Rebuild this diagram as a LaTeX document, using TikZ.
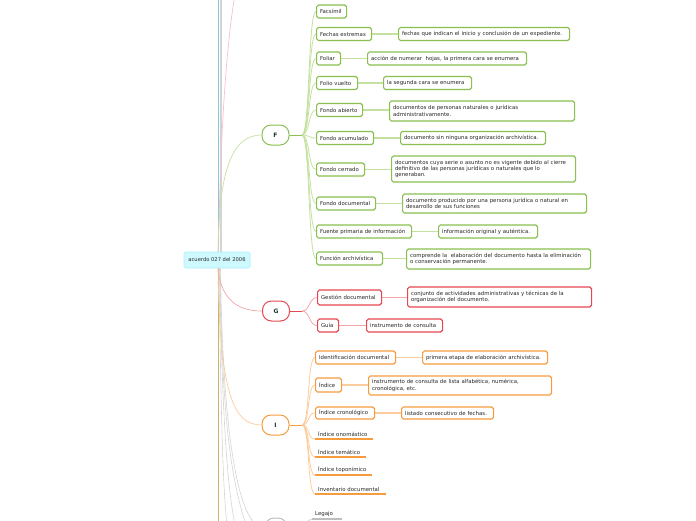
\documentclass[tikz,border=0pt]{standalone}
\usepackage{fontspec}
\setmainfont{DejaVu Sans}
\usetikzlibrary{backgrounds}
\definecolor{txt}{RGB}{40,40,40}
\definecolor{lett}{RGB}{25,55,45}
\definecolor{fc}{RGB}{137,192,80}
\definecolor{fl}{RGB}{196,225,160}
\definecolor{gc}{RGB}{229,72,80}
\definecolor{gl}{RGB}{243,165,170}
\definecolor{ic}{RGB}{246,156,62}
\definecolor{il}{RGB}{251,204,156}
\definecolor{rootfill}{RGB}{206,249,255}
\definecolor{rootdraw}{RGB}{172,238,250}
\definecolor{tealc}{RGB}{135,200,215}
\definecolor{greyc}{RGB}{212,212,212}
\definecolor{pinkc}{RGB}{248,190,210}
\definecolor{olivec}{RGB}{200,182,100}
\definecolor{lgc}{RGB}{190,190,190}
\tikzset{
  base/.style={font=\fontsize{5.4}{6.4}\selectfont, text=txt, anchor=west, inner xsep=3.5pt, inner ysep=1.5pt, rounded corners=1.8pt, fill=white, align=left, minimum height=13pt},
  fbox/.style={base, draw=fc, line width=1.1pt},
  gbox/.style={base, draw=gc, line width=1.1pt},
  ibox/.style={base, draw=ic, line width=1.1pt},
  ulnode/.style={font=\fontsize{5.4}{6.4}\selectfont, text=txt, anchor=south west, inner xsep=3pt, inner ysep=2pt, align=left},
  letter/.style={font=\fontsize{6}{7}\bfseries, text=lett, fill=white, rounded corners=9pt, minimum width=27pt, minimum height=20pt, inner sep=0pt, line width=1pt},
  fcur/.style={fl, line width=0.8pt},
  gcur/.style={gl, line width=0.8pt},
  icur/.style={il, line width=0.8pt},
  fdet/.style={fl, line width=1.3pt},
  gdet/.style={gl, line width=1.3pt},
  idet/.style={il, line width=1.3pt},
}
\begin{document}
\begin{tikzpicture}[x=1pt,y=-1pt]
\useasboundingbox (0,0) rectangle (696,520);
\clip (0,0) rectangle (696,520);

% root
\node[font=\fontsize{5.2}{6}\selectfont, text=txt, fill=rootfill, draw=rootdraw, line width=0.6pt, rounded corners=2pt, minimum width=66pt, minimum height=16pt, inner sep=1pt] (root) at (217,260) {acuerdo 027 del 2006};

% letter nodes
\node[letter, draw=fc] (F) at (275.5,135) {F};
\node[letter, draw=gc] (G) at (276,311) {G};
\node[letter, draw=ic] (I) at (275.5,425) {I};
\node[letter, draw=lgc, minimum width=22pt] (L) at (276,528) {};

% F children
\node[fbox, text width=23pt] (fa) at (316,11.5) {Facsímil};
\node[fbox, text width=48pt] (fe) at (316,34) {Fechas extremas};
\node[fbox, text width=17pt] (fo) at (316,58.5) {Foliar};
\node[fbox, text width=34pt] (fv) at (316,83) {Folio vuelto};
\node[fbox, text width=39pt] (fab) at (316,110) {Fondo abierto};
\node[fbox, text width=50pt] (fac) at (316,138) {Fondo acumulado};
\node[fbox, text width=41pt] (fce) at (316,169.5) {Fondo cerrado};
\node[fbox, text width=52pt] (fdo) at (316,203.5) {Fondo documental};
\node[fbox, text width=88pt] (fue) at (316,231.5) {Fuente primaria de información};
\node[fbox, text width=59pt] (fun) at (316,258.5) {Función archivística};

% F details
\node[fbox, text width=164pt] (dfe) at (398,34) {fechas que indican el inicio y conclusión de un expediente.};
\node[fbox, text width=152pt] (dfo) at (367,58.5) {acción de numerar~ hojas, la primera cara se enumera};
\node[fbox, text width=81pt] (dfv) at (383,83) {la segunda cara se enumera};
\node[fbox, text width=178pt, minimum height=20pt] (dfab) at (389,111) {documentos de personas naturales o jurídicas\\administrativamente.};
\node[fbox, text width=138pt] (dfac) at (400,138) {documento sin ninguna organización archivística.};
\node[fbox, text width=177pt, minimum height=26pt] (dfce) at (391,169) {documentos cuya serie o asunto no es vigente debido al cierre\\definitivo de las personas jurídicas o naturales que lo\\generaban.};
\node[fbox, text width=177pt, minimum height=19pt] (dfdo) at (402,203.5) {documento producido por una persona jurídica o natural en\\desarrollo de sus funciones};
\node[fbox, text width=92pt] (dfue) at (438,231.5) {información original y auténtica.};
\node[fbox, text width=177pt, minimum height=20pt] (dfun) at (406,259) {comprende la~ elaboración del documento hasta la eliminación\\o conservación permanente.};

% G children
\node[gbox, text width=57pt, minimum height=15pt] (ge) at (317,297.5) {Gestión documental};
\node[gbox, text width=14pt] (gu) at (317,325.5) {Guía};
\node[gbox, text width=177pt, minimum height=20pt] (dge) at (407,297) {conjunto de actividades administrativas y técnicas de la\\organización del documento.};
\node[gbox, text width=69pt] (dgu) at (366,325.5) {instrumento de consulta};

% I children
\node[ibox, text width=73pt] (iid) at (315,357.5) {Identificación documental};
\node[ibox, text width=19pt, minimum height=14pt] (iin) at (315,385) {Índice};
\node[ibox, text width=52pt, minimum height=12pt] (iic) at (315,413) {Índice cronológico};
\node[ibox, text width=118pt] (diid) at (422,357.5) {primera etapa de elaboración archivística.};
\node[ibox, text width=176pt, minimum height=19pt] (diin) at (368,385.5) {instrumento de consulta de lista alfabética, numérica,\\cronológica, etc.};
\node[ibox, text width=85pt, minimum height=12pt] (diic) at (401,413) {listado consecutivo de fechas.};

\node[ulnode, text width=52pt] (ion) at (315,439) {Índice onomástico};
\node[ulnode, text width=45pt] (ite) at (315,457) {Índice temático};
\node[ulnode, text width=51pt] (ito) at (315,475) {Índice toponímico};
\node[ulnode, text width=65pt] (iinv) at (315,494) {Inventario documental};
\node[ulnode, text width=24pt] (leg) at (312,519) {Legajo};

\foreach \n in {ion,ite,ito,iinv}{\draw[ic, line width=1.4pt] (\n.south west) -- (\n.south east);}
\draw[lgc, line width=1.4pt] (leg.south west) -- (leg.south east);

\begin{pgfonlayer}{background}
% left trunk lines
\coordinate (t1) at (218.3,-2);
\coordinate (t2) at (220,-2);
\coordinate (t3) at (221.5,-2);
\coordinate (p1) at (236,-12);
\coordinate (o1) at (218.6,525);
\coordinate (gc1) at (227,525);
\coordinate (gc2) at (235,525);
\coordinate (gc3) at (246,525);
\draw[greyc, line width=0.6pt] (t2) -- (t2 |- root.center);
\draw[greyc, line width=0.6pt] (t3) -- (t3 |- root.center);
\draw[tealc, line width=1pt] (t1) -- (t1 |- root.center);
\draw[pinkc, line width=0.7pt] ([xshift=1.5pt]root.north) .. controls (220,150) and (225,50) .. (p1);
\draw[greyc, line width=0.6pt] ([xshift=2pt]root.south) .. controls (221,420) and (223,490) .. (gc1);
\draw[greyc, line width=0.6pt] ([xshift=2.5pt]root.south) .. controls (222,400) and (226,480) .. (gc2);
\draw[greyc, line width=0.6pt] ([xshift=3pt]root.south) .. controls (222,400) and (228,470) .. (gc3);
\draw[greyc, line width=0.6pt] ([xshift=3.5pt]root.south) .. controls (222,390) and (232,528) .. (L.west);
\draw[olivec, line width=1.1pt] (o1 |- root.center) -- (o1);

% root to letters
\draw[fl, line width=0.7pt] ([xshift=1pt]root.north) .. controls (219,170) and (232,135) .. (F.west);
\draw[gl, line width=0.7pt] ([xshift=1pt]root.south) .. controls (221,300) and (238,311) .. (G.west);
\draw[il, line width=0.7pt] ([xshift=1pt]root.south) .. controls (220,390) and (232,425) .. (I.west);

% F junction
\coordinate (Fj) at (302,135);
\draw[fc, line width=1pt] (F.east) -- (Fj);
\foreach \n in {fa,fe,fo,fv,fab,fac,fce,fdo,fue,fun}{
  \draw[fcur] (Fj) .. controls +(8,0) and +(-8,0) .. (\n.west);
}
\draw[fdet] (fe) -- (dfe);
\draw[fdet] (fo) -- (dfo);
\draw[fdet] (fv) -- (dfv);
\draw[fdet] (fab.east) -- (fab.east -| dfab.west);
\draw[fdet] (fac) -- (dfac);
\draw[fdet] (fce.east) -- (fce.east -| dfce.west);
\draw[fdet] (fdo.east) -- (fdo.east -| dfdo.west);
\draw[fdet] (fue) -- (dfue);
\draw[fdet] (fun.east) -- (fun.east -| dfun.west);

% G junction
\coordinate (Gj) at (302,311);
\draw[gc, line width=1pt] (G.east) -- (Gj);
\foreach \n in {ge,gu}{
  \draw[gcur] (Gj) .. controls +(8,0) and +(-8,0) .. (\n.west);
}
\draw[gdet] (ge.east) -- (ge.east -| dge.west);
\draw[gdet] (gu) -- (dgu);

% I junction
\coordinate (Ij) at (302,425);
\draw[ic, line width=1pt] (I.east) -- (Ij);
\foreach \n in {iid,iin,iic}{
  \draw[icur] (Ij) .. controls +(8,0) and +(-8,0) .. (\n.west);
}
\foreach \n in {ion,ite,ito,iinv}{
  \draw[icur] (Ij) .. controls +(8,0) and +(-8,0) .. (\n.south west);
}
\draw[idet] (iid) -- (diid);
\draw[idet] (iin.east) -- (iin.east -| diin.west);
\draw[idet] (iic) -- (diic);

% L junction
\coordinate (Lj) at (302,528);
\draw[lgc, line width=1pt] (L.east) -- (Lj);
\draw[greyc, line width=0.8pt] (Lj) .. controls +(6,0) and +(-6,0) .. (leg.south west);
\end{pgfonlayer}
\end{tikzpicture}
\end{document}
